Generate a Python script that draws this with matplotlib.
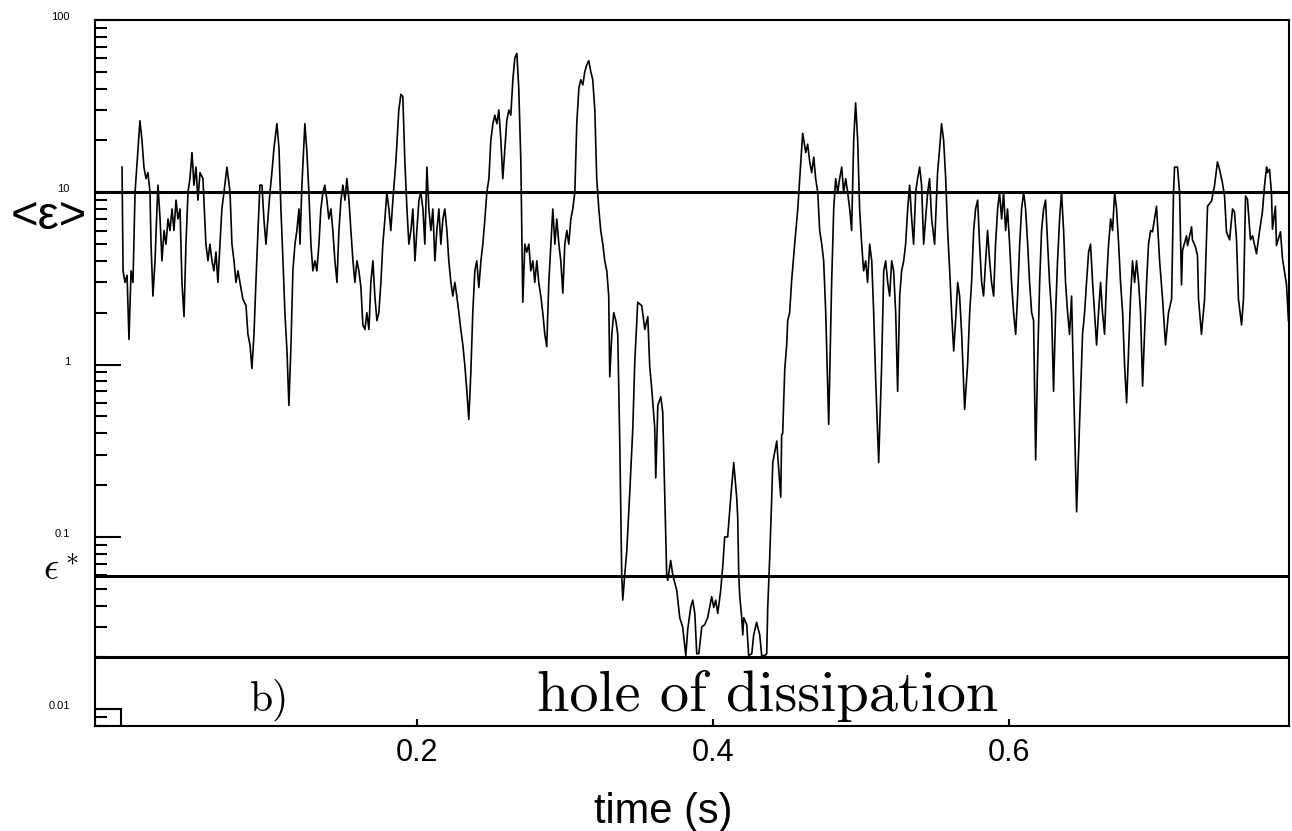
import matplotlib
matplotlib.use('Agg')
import matplotlib.pyplot as plt
from matplotlib.patches import Rectangle
from matplotlib.ticker import LogLocator, NullFormatter
from matplotlib.transforms import ScaledTranslation
import numpy as np

plt.rcParams['font.family'] = ['Liberation Sans', 'DejaVu Sans']
plt.rcParams['mathtext.fontset'] = 'cm'

t_a = [0.7, 1.4, 2.7, 4.1, 5.4, 6.8, 8.1, 9.5, 11.5, 12.8, 14.2, 15.5, 16.9, 18.2,
       19.6, 20.3, 21.6, 23.0, 24.3, 25.0, 26.4, 27.7, 29.1, 30.4, 31.8, 33.1, 34.5,
       35.8, 37.2, 38.5, 39.9, 41.2, 42.6, 43.9, 45.3, 46.6, 48.0, 49.3, 50.7, 52.0, 53.4]
eps_a = [14, 3.5, 3.0, 3.3, 1.4, 3.5, 3.0, 10, 18, 26, 20, 14, 12, 13,
         10, 5, 2.5, 4, 8, 11, 7, 4, 6, 5, 7, 6, 8,
         6, 9, 7, 8, 3, 1.9, 5, 10, 12, 17, 11, 14, 9, 13]

t_b = [55.4, 57.4, 58.8, 60.1, 61.5, 62.8, 64.2, 65.5, 66.9, 68.2, 69.6, 71.6, 73.7,
       75.0, 76.4, 77.7, 79.1, 80.4, 82.4, 84.5, 85.8, 87.2, 88.5, 89.9, 91.2, 92.6,
       93.9, 95.3, 96.6, 98.0, 99.3, 100.7, 102.0, 103.4, 105.4, 106.8, 108.1, 109.5,
       110.8, 112.2, 113.5, 114.9, 116.2, 117.6, 118.9, 120.3, 121.0]
eps_b = [12, 5, 4, 5, 4, 3.5, 4.5, 3, 5, 8, 10, 14, 10,
         5, 4, 3, 3.5, 3, 2.4, 2.2, 1.5, 1.3, 0.95, 1.5, 3, 6,
         11, 11, 7, 5, 7, 10, 13, 18, 25, 18, 8, 4,
         2, 1.2, 0.58, 1.3, 3.5, 5, 6, 8, 5]

t_c = [122.3, 124.3, 125.7, 127.0, 128.4, 129.7, 131.1, 132.4, 133.8, 135.1,
       136.5, 137.8, 139.2, 140.5, 141.9, 143.2, 144.6, 146.0, 147.3, 148.7,
       150.0, 151.4, 152.7, 154.1, 155.4, 156.8, 158.1, 159.5, 160.8, 162.2,
       163.5, 164.9, 166.2, 167.6, 168.9, 170.3, 171.6, 173.0, 174.3, 175.7,
       177.0, 178.4, 179.7, 181.1, 182.4, 183.8, 185.8, 187.8, 189.2, 190.5,
       191.9, 193.3, 194.6, 196.0, 197.3, 198.7, 200.0]
eps_c = [11, 25, 17, 10, 5, 3.5, 4, 3.5, 5, 8,
         10, 11, 9, 7, 8, 6, 4, 3, 6, 9,
         11, 9, 12, 9, 6, 4, 3, 4, 3.5, 2.8,
         1.7, 1.6, 2, 1.6, 3, 4, 2.5, 1.8, 2, 3,
         5, 7, 10, 8, 6, 9, 15, 30, 37, 36,
         15, 8, 5, 6, 8, 4, 6]

t_d = [201.4, 202.7, 204.1, 205.4, 206.8, 208.1, 209.5, 210.8, 212.2, 213.5,
       214.9, 216.2, 217.6, 218.9, 220.3, 221.6, 223.0, 224.3, 225.7, 227.0,
       228.4, 229.7, 231.1, 232.4, 233.8, 235.1, 236.5, 237.8, 239.2, 240.5,
       241.9, 243.3, 244.6, 246.0, 247.3, 248.7, 250.0, 251.4, 252.7, 254.1,
       255.4, 256.8, 258.1, 259.5, 260.8, 262.2, 263.5, 264.9, 266.2, 267.6,
       268.9, 270.3, 271.6, 273.0, 274.3, 275.7, 277.0, 278.4, 279.7, 281.1,
       282.4, 283.8, 285.1, 286.5, 287.8, 289.2, 290.6, 291.9, 293.3, 294.6,
       296.0, 297.3, 298.7, 300.0, 301.4, 302.7, 304.1, 305.4, 306.8, 308.1,
       309.5, 310.8, 312.2, 313.5, 314.9, 316.2, 317.6, 318.9, 320.3, 321.6,
       323.0, 324.3, 325.7, 327.0, 328.4, 329.7]
eps_d = [9, 10, 8, 5, 14, 8, 6, 8, 4, 6,
         8, 5, 7, 8, 6, 4, 3, 2.5, 3, 2.5,
         2, 1.6, 1.3, 1.0, 0.7, 0.48, 0.9, 2, 3.5, 4,
         2.8, 4, 5, 7, 10, 12, 20, 25, 28, 25,
         30, 20, 12, 18, 26, 30, 28, 45, 60, 64,
         40, 15, 2.3, 5, 4.5, 5, 3.5, 4, 3, 4,
         3, 2.5, 2, 1.5, 1.27, 3, 5, 8, 5, 7,
         5, 4, 2.6, 5, 6, 5, 7, 8, 10, 25,
         40, 45, 42, 50, 55, 58, 50, 45, 30, 12,
         8, 6, 5, 4, 3.5, 2.5]

# the hole of dissipation
t_h = [330.4, 331.8, 333.1, 334.5, 335.8, 337.2, 338.5, 339.2, 340.5, 341.9,
       343.9, 346.0, 347.3, 349.3, 352.0, 354.1, 356.1, 357.4, 358.8, 360.8,
       361.5, 362.9, 364.9, 366.2, 367.6, 368.9, 369.6, 371.6, 373.0, 375.7,
       377.7, 379.7, 381.8, 383.1, 385.1, 386.5, 387.9, 389.2, 390.6, 392.6,
       394.6, 396.6, 399.3, 400.7, 402.0, 403.4, 405.4, 406.8, 408.1, 410.1,
       412.2, 414.2, 416.2, 416.9, 417.6, 418.3, 419.6, 420.3, 421.0, 423.0,
       424.3, 426.4, 427.7, 429.7, 430.4, 431.8, 433.1, 435.2, 436.5, 437.2,
       438.5, 439.9, 440.6, 443.3, 443.9, 446.0, 446.6, 447.3, 448.7, 450.0,
       450.7, 452.0, 453.4]
eps_h = [0.85, 1.5, 2.0, 1.8, 1.5, 0.34, 0.06, 0.043, 0.06, 0.083,
         0.18, 0.43, 1.03, 2.3, 2.2, 1.6, 1.9, 0.98, 0.72, 0.43,
         0.22, 0.58, 0.65, 0.53, 0.17, 0.06, 0.056, 0.073, 0.06, 0.049,
         0.034, 0.03, 0.0205, 0.029, 0.039, 0.043, 0.036, 0.021, 0.021, 0.03,
         0.031, 0.034, 0.045, 0.039, 0.043, 0.036, 0.049, 0.068, 0.1, 0.1,
         0.17, 0.27, 0.17, 0.13, 0.06, 0.045, 0.034, 0.027, 0.034, 0.031,
         0.0205, 0.021, 0.027, 0.032, 0.03, 0.027, 0.0205, 0.0205, 0.021, 0.039,
         0.075, 0.17, 0.27, 0.36, 0.3, 0.17, 0.39, 0.4, 0.94, 1.3,
         1.8, 2.0, 3.1]

t_e = [455.4, 457.5, 458.8, 460.8, 462.9, 464.2, 465.6, 466.9, 468.3, 469.6,
       471.0, 472.3, 473.7, 475.0, 476.4, 478.4, 480.4, 481.8, 483.1, 484.5,
       485.8, 487.2, 488.5, 489.9, 491.2, 492.6, 493.9, 495.3, 496.6, 498.0,
       499.3, 500.7, 502.0, 503.4, 504.7, 506.1, 507.5, 508.8, 510.2, 512.2,
       514.2, 515.6, 516.9, 518.3, 519.6, 521.0, 522.3, 523.7, 525.0, 526.4,
       527.7, 529.1, 530.4, 531.8, 533.1, 534.5, 535.8, 537.2, 538.5, 539.9,
       541.2, 542.6, 543.9, 545.3, 546.6, 548.0, 550.0, 552.0, 553.4, 554.7,
       556.1, 557.5, 558.8, 560.2, 561.5, 562.9, 564.2, 565.6, 566.9, 568.3,
       570.3, 572.3, 573.7, 575.0, 576.4, 577.7, 579.1, 580.4, 581.8, 583.1,
       584.5, 585.8, 587.2, 588.5, 589.9, 591.2, 592.6, 593.9]
eps_e = [5, 8, 12, 22, 17, 19, 15, 13, 16, 12,
         10, 6, 5, 4, 2, 0.45, 3, 8, 12, 10,
         12, 14, 10, 12, 10, 8, 6, 20, 33, 20,
         8, 5, 3.5, 4, 3, 5, 4, 2, 0.8, 0.27,
         1, 3.5, 4, 3, 2.5, 4, 3.5, 2, 0.7, 2.5,
         3.5, 4, 5, 8, 11, 7, 5, 10, 12, 14,
         11, 5, 7, 10, 12, 7, 5, 13, 18, 25,
         20, 12, 6, 3.5, 2, 1.2, 1.8, 3, 2.5, 1.5,
         0.55, 1.0, 2, 3, 6, 8, 9, 5, 3, 2.5,
         4, 6, 4, 3, 2.5, 5, 8, 10]

t_f = [595.3, 596.6, 598.0, 599.3, 600.7, 602.0, 603.4, 604.8, 606.1, 607.5,
       608.8, 610.2, 611.5, 612.9, 614.2, 615.6, 616.9, 618.3, 619.6, 621.0,
       622.3, 623.7, 625.0, 626.4, 627.7, 629.1, 630.4, 631.8, 633.1, 634.5,
       635.8, 637.2, 638.5, 639.9, 641.2, 642.6, 643.9, 646.0, 647.3, 648.7,
       650.0, 651.4, 652.7, 654.1, 655.4, 656.8, 658.1, 659.5, 660.8, 662.2,
       663.5, 664.9, 666.2, 667.6, 669.0, 670.3, 671.7, 673.0, 674.4, 675.7,
       677.1, 678.4, 679.8, 681.1, 682.5, 683.8, 685.2, 686.5, 687.9, 689.2,
       690.6, 691.9, 693.3, 694.6, 696.0, 697.3, 700.0, 702.1, 704.1, 706.1,
       708.1, 710.2, 711.5, 712.2, 714.2, 715.6, 716.9, 717.6, 720.3, 721.0,
       723.7, 724.3, 726.4, 727.7, 728.4, 730.4, 732.5, 734.5, 737.2, 739.2,
       741.2, 742.6, 744.6, 746.0, 747.3, 749.4, 751.4, 752.7, 754.1, 755.4,
       757.5, 758.8, 760.2, 761.5, 763.5, 764.9, 767.6, 769.6, 771.6, 773.0,
       774.4, 775.0, 776.4, 777.7, 778.4, 780.4, 781.1, 783.8, 785.2, 787.9,
       789.2]
eps_f = [7, 10, 6, 8, 5, 3, 2, 1.5, 2.5, 5,
         8, 10, 8, 5, 3, 2, 1.8, 0.28, 1, 3,
         6, 8, 9, 5, 3, 2, 0.7, 2, 4, 7,
         10, 6, 3, 2, 1.5, 2.5, 0.8, 0.14, 0.3, 0.7,
         1.5, 2, 3, 4.5, 5, 3, 2, 1.3, 2, 3,
         2, 1.5, 3, 5, 7, 6, 10, 8, 5, 3,
         2, 1, 0.6, 1.2, 2.5, 4, 3, 4, 3, 2,
         0.75, 1.5, 3, 5, 6, 5.9, 8.3, 4, 2.4, 1.3,
         2, 2.4, 10, 14, 14, 10, 2.9, 4.6, 5.6, 4.9,
         6.3, 5.3, 4.8, 4.3, 2.4, 1.5, 2.4, 8.3, 8.9, 10.9,
         15, 13.6, 11.3, 9.5, 5.9, 5.3, 8, 7.7, 5.3, 2.4,
         1.7, 2.4, 9.5, 9.1, 5.3, 5.6, 4.4, 5.9, 7.7, 10.9,
         14, 13, 13.6, 10, 6.1, 8.3, 4.9, 5.9, 4.1, 2.9,
         1.8]

time_ms = t_a + t_b + t_c + t_d + t_h + t_e + t_f
eps_local = eps_a + eps_b + eps_c + eps_d + eps_h + eps_e + eps_f
assert len(time_ms) == len(eps_local)

eps_mean_level = 10.0
eps_star = 0.059
eps_floor = 0.02

x_ticks = [0.2, 0.4, 0.6]
y_ticks = [100, 10, 1, 0.1, 0.01]
y_tick_labels = ['100', '10', '1', '0.1', '0.01']

fig = plt.figure(figsize=(12.92, 8.31), dpi=100)
ax = fig.add_axes([0.0735, 0.1264, 0.9241, 0.8496])

t = np.array(time_ms) / 1000.0
ax.plot(t, eps_local, color='black', lw=1.2)

ax.set_yscale('log')
ax.set_xlim(-0.0176, 0.7895)
ax.set_ylim(0.008, 100)

for lev in (eps_mean_level, eps_star, eps_floor):
    ax.axhline(lev, color='black', lw=2.2)

x0 = ax.get_xlim()[0]
y0 = ax.get_ylim()[0]
ax.add_patch(Rectangle((x0, y0), 0 - x0, 0.01 - y0, fill=False, ec='black', lw=1.5))

ax.set_xticks(x_ticks)
ax.set_xticklabels([f'{v:.1f}' for v in x_ticks])
ax.set_yticks(y_ticks)
ax.set_yticklabels(y_tick_labels)
ax.yaxis.set_minor_locator(LogLocator(base=10, subs=range(2, 10)))
ax.yaxis.set_minor_formatter(NullFormatter())

ax.tick_params(axis='y', which='major', direction='in', length=19, width=1.5,
               labelsize=8, pad=18, right=False)
ax.tick_params(axis='y', which='minor', direction='in', length=8.5, width=1.5, right=False)
ax.tick_params(axis='x', which='major', direction='in', length=5, width=1.5,
               labelsize=22, pad=9, top=False)
for lbl in ax.get_yticklabels():
    lbl.set_transform(lbl.get_transform() + ScaledTranslation(0, 4 / 100, fig.dpi_scale_trans))

for s in ax.spines.values():
    s.set_linewidth(1.5)

fig.text(49 / 1292, 1 - 217 / 831, '<ε>', fontsize=34, ha='center', va='center')
fig.text(61 / 1292, 1 - 570 / 831, r'$\epsilon^*$', fontsize=27, ha='center', va='center')
fig.text(663 / 1292, 1 - 812 / 831, 'time (s)', fontsize=30, ha='center', va='center')

ax.text(0.1007, 0.0098, 'b)', family='cmr10', fontsize=30, ha='center', va='baseline')
ax.text(0.437, 0.0098, 'hole of dissipation', family='cmr10', fontsize=42,
        ha='center', va='baseline')

fig.savefig('out.png', dpi=100)
